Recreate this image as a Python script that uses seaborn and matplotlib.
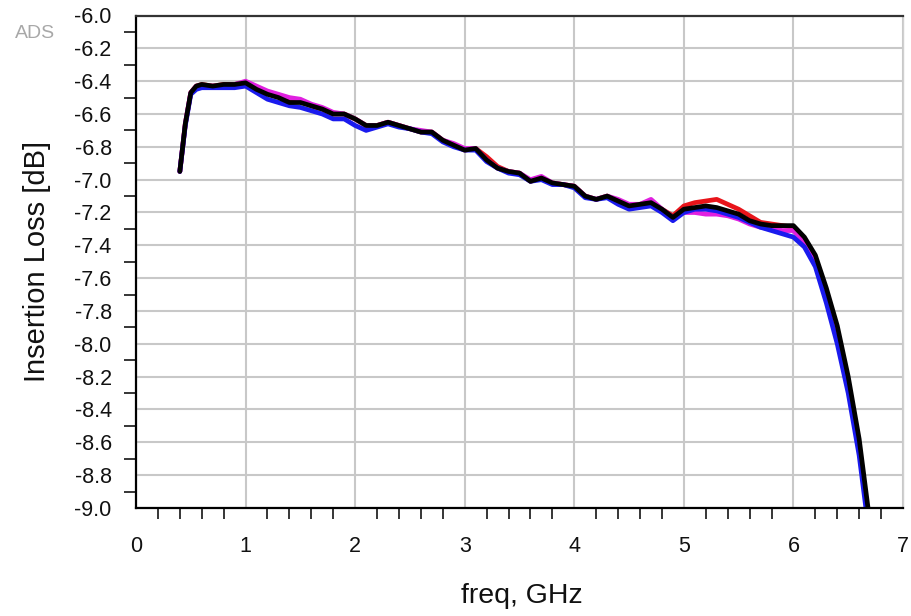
import numpy as np
import pandas as pd
import matplotlib
matplotlib.use("Agg")
import matplotlib.pyplot as plt
from matplotlib.ticker import MultipleLocator, FormatStrFormatter
import seaborn as sns

# frequency points (GHz) shared by all four traces
freq = [0.40, 0.45, 0.50, 0.55,
        0.6, 0.7, 0.8, 0.9, 1.0, 1.1, 1.2, 1.3, 1.4, 1.5,
        1.6, 1.7, 1.8, 1.9, 2.0, 2.1, 2.2, 2.3, 2.4, 2.5,
        2.6, 2.7, 2.8, 2.9, 3.0, 3.1, 3.2, 3.3, 3.4, 3.5,
        3.6, 3.7, 3.8, 3.9, 4.0, 4.1, 4.2, 4.3, 4.4, 4.5,
        4.6, 4.7, 4.8, 4.9, 5.0, 5.1, 5.2, 5.3, 5.4, 5.5,
        5.6, 5.7, 5.8, 5.9, 6.0, 6.1, 6.2, 6.3, 6.4, 6.5,
        6.6, 6.7]

il_red = [-6.95, -6.66, -6.47, -6.43,
          -6.42, -6.43, -6.42, -6.42, -6.41, -6.44, -6.47, -6.49, -6.52, -6.52,
          -6.55, -6.57, -6.60, -6.60, -6.63, -6.67, -6.67, -6.65, -6.67, -6.69,
          -6.71, -6.71, -6.76, -6.79, -6.82, -6.81, -6.86, -6.92, -6.95, -6.96,
          -7.01, -6.99, -7.02, -7.03, -7.04, -7.10, -7.12, -7.10, -7.13, -7.16,
          -7.15, -7.14, -7.18, -7.22, -7.16, -7.14, -7.13, -7.12, -7.15, -7.18,
          -7.22, -7.26, -7.27, -7.28, -7.29, -7.37, -7.49, -7.70, -7.94, -8.25,
          -8.63, -9.15]

il_magenta = [-6.95, -6.66, -6.47, -6.43,
              -6.43, -6.43, -6.43, -6.42, -6.40, -6.43, -6.46, -6.48, -6.50, -6.51,
              -6.54, -6.56, -6.59, -6.60, -6.63, -6.67, -6.67, -6.65, -6.67, -6.69,
              -6.70, -6.71, -6.76, -6.78, -6.81, -6.81, -6.88, -6.93, -6.95, -6.96,
              -7.00, -6.98, -7.02, -7.03, -7.04, -7.10, -7.12, -7.10, -7.12, -7.15,
              -7.15, -7.12, -7.18, -7.23, -7.20, -7.20, -7.21, -7.21, -7.22, -7.24,
              -7.27, -7.29, -7.30, -7.31, -7.31, -7.38, -7.50, -7.71, -7.95, -8.26,
              -8.64, -9.16]

il_blue = [-6.95, -6.67, -6.48, -6.45,
           -6.44, -6.44, -6.44, -6.44, -6.43, -6.47, -6.51, -6.53, -6.55, -6.56,
           -6.58, -6.60, -6.63, -6.63, -6.67, -6.70, -6.68, -6.66, -6.68, -6.69,
           -6.71, -6.72, -6.77, -6.80, -6.82, -6.82, -6.89, -6.93, -6.96, -6.97,
           -7.01, -7.00, -7.03, -7.03, -7.05, -7.11, -7.12, -7.11, -7.15, -7.18,
           -7.17, -7.16, -7.20, -7.25, -7.20, -7.18, -7.18, -7.19, -7.21, -7.23,
           -7.26, -7.29, -7.31, -7.33, -7.35, -7.41, -7.53, -7.75, -8.00, -8.30,
           -8.68, -9.20]

il_black = [-6.95, -6.66, -6.47, -6.43,
            -6.42, -6.43, -6.42, -6.42, -6.41, -6.45, -6.48, -6.50, -6.53, -6.53,
            -6.55, -6.57, -6.60, -6.60, -6.63, -6.67, -6.67, -6.65, -6.67, -6.69,
            -6.71, -6.71, -6.76, -6.79, -6.82, -6.81, -6.88, -6.93, -6.95, -6.96,
            -7.01, -6.99, -7.02, -7.03, -7.04, -7.10, -7.12, -7.10, -7.13, -7.16,
            -7.15, -7.14, -7.18, -7.23, -7.18, -7.17, -7.16, -7.17, -7.19, -7.21,
            -7.25, -7.27, -7.28, -7.28, -7.28, -7.35, -7.46, -7.66, -7.89, -8.20,
            -8.58, -9.10]

traces = ["red", "magenta", "blue", "black"]
palette = {"red": "#e8141a", "magenta": "#e020e0", "blue": "#1a1aee", "black": "#000000"}

df = pd.concat([
    pd.DataFrame({"freq": freq, "il": vals, "trace": name})
    for name, vals in zip(traces, [il_red, il_magenta, il_blue, il_black])
], ignore_index=True)

sns.set_style("white")
plt.rcParams["font.family"] = ["Liberation Sans", "DejaVu Sans"]
plt.rcParams["axes.unicode_minus"] = False

fig = plt.figure(figsize=(9.11, 6.16), dpi=100)
ax = fig.add_axes([136 / 911, 1 - 508 / 616, (903 - 136) / 911, (508 - 15.5) / 616])

sns.lineplot(data=df, x="freq", y="il", hue="trace", hue_order=traces,
             palette=palette, estimator=None, sort=False, linewidth=3.4,
             legend=False, ax=ax)

ax.set_xlim(0, 7)
ax.set_ylim(-9, -6)
ax.xaxis.set_major_locator(MultipleLocator(1))
ax.xaxis.set_minor_locator(MultipleLocator(0.2))
ax.yaxis.set_major_locator(MultipleLocator(0.2))
ax.yaxis.set_minor_locator(MultipleLocator(0.1))
ax.yaxis.set_major_formatter(FormatStrFormatter("%.1f"))

ax.set_axisbelow(True)
ax.grid(which="major", color="#c8c8c8", linewidth=1.5)

ax.tick_params(axis="y", which="major", direction="out", length=16, width=1.3,
               pad=1.5, labelsize=15.5, colors="#111111")
ax.tick_params(axis="y", which="minor", direction="out", length=8.5, width=1.3,
               left=True)
ax.tick_params(axis="x", which="major", direction="out", length=14.5, width=1.3,
               pad=6, labelsize=15.5, colors="#111111")
ax.tick_params(axis="x", which="minor", direction="out", length=8, width=1.3,
               bottom=True)

for side in ["left", "bottom"]:
    ax.spines[side].set_color("#000000")
    ax.spines[side].set_linewidth(1.6)
ax.spines["top"].set_color("#333333")
ax.spines["top"].set_linewidth(1.6)
ax.spines["right"].set_color("#d0d0d0")
ax.spines["right"].set_linewidth(1.0)

ax.set_ylabel("Insertion Loss [dB]", fontsize=21, color="#111111")
ax.set_xlabel("freq, GHz", fontsize=20.5, color="#111111", va="top")
ax.yaxis.set_label_coords(-0.111, 0.5)
ax.xaxis.set_label_coords(0.503, -0.152)

fig.text(35 / 911, 1 - 33 / 616, "ADS", ha="center", va="center",
         fontsize=14, color="#a8a8a8")

fig.savefig("out.png", dpi=100)
plt.close(fig)
